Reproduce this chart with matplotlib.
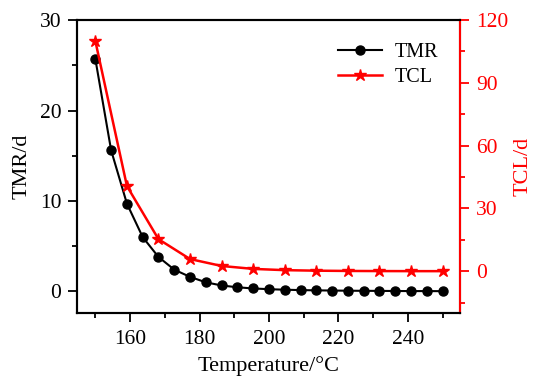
import matplotlib
matplotlib.use('Agg')

import numpy as np
import matplotlib.pyplot as plt
from matplotlib.ticker import MultipleLocator

plt.rcParams['font.family'] = ['Liberation Serif', 'DejaVu Serif']
plt.rcParams['mathtext.fontset'] = 'stix'

# === Data ===
temp_tmr = np.linspace(150, 250, 23)
tmr = [25.7, 15.6, 9.7, 6.0, 3.8, 2.4, 1.6, 1.0, 0.65, 0.45, 0.32, 0.24,
       0.18, 0.14, 0.11, 0.09, 0.07, 0.06, 0.05, 0.04, 0.03, 0.03, 0.02]

temp_tcl = temp_tmr[::2]
tcl = [110.0, 40.7, 15.3, 5.8, 2.5, 1.1, 0.5, 0.25, 0.12, 0.06, 0.03, 0.02]

fig, ax = plt.subplots(figsize=(5.33, 3.79), dpi=100)
fig.subplots_adjust(left=0.145, right=0.863, top=0.947, bottom=0.174)

l1, = ax.plot(temp_tmr, tmr, color='black', marker='o', markersize=6.5,
              linewidth=1.5, label='TMR')
ax.set_xlim(144.8, 255)
ax.set_ylim(-2.4, 30)
ax.set_xlabel('Temperature/°C', fontsize=16, labelpad=5)
ax.set_ylabel('TMR/d', fontsize=16, labelpad=6)
ax.xaxis.set_major_locator(MultipleLocator(20))
ax.xaxis.set_minor_locator(MultipleLocator(10))
ax.yaxis.set_major_locator(MultipleLocator(10))
ax.yaxis.set_minor_locator(MultipleLocator(5))
ax.tick_params(which='both', direction='out', labelsize=15.5, width=1.3)
ax.tick_params(which='major', length=6.5)
ax.tick_params(which='minor', length=3.5)
ax.tick_params(axis='x', which='major', pad=6)
ax.tick_params(axis='y', which='major', pad=5)
for s in ax.spines.values():
    s.set_linewidth(1.5)

ax2 = ax.twinx()
l2, = ax2.plot(temp_tcl, tcl, color='red', marker='*', markersize=9,
               linewidth=1.8, label='TCL')
ax2.set_ylim(-20, 120)
ax2.yaxis.set_major_locator(MultipleLocator(30))
ax2.yaxis.set_minor_locator(MultipleLocator(15))
ax2.set_ylabel('TCL/d', fontsize=16, color='red', labelpad=4)
ax2.tick_params(which='both', direction='out', labelsize=15.5, width=1.3,
                colors='red')
ax2.tick_params(which='major', length=6.5, pad=5)
ax2.tick_params(which='minor', length=3.5)
ax2.spines['right'].set_color('red')
for s in ax2.spines.values():
    s.set_linewidth(1.5)

ax.legend([l1, l2], ['TMR', 'TCL'], loc='upper right',
          bbox_to_anchor=(0.99, 0.985), frameon=False, fontsize=14.5,
          handlelength=2.2, labelspacing=0.3, handletextpad=0.6)

plt.savefig('out.png')
